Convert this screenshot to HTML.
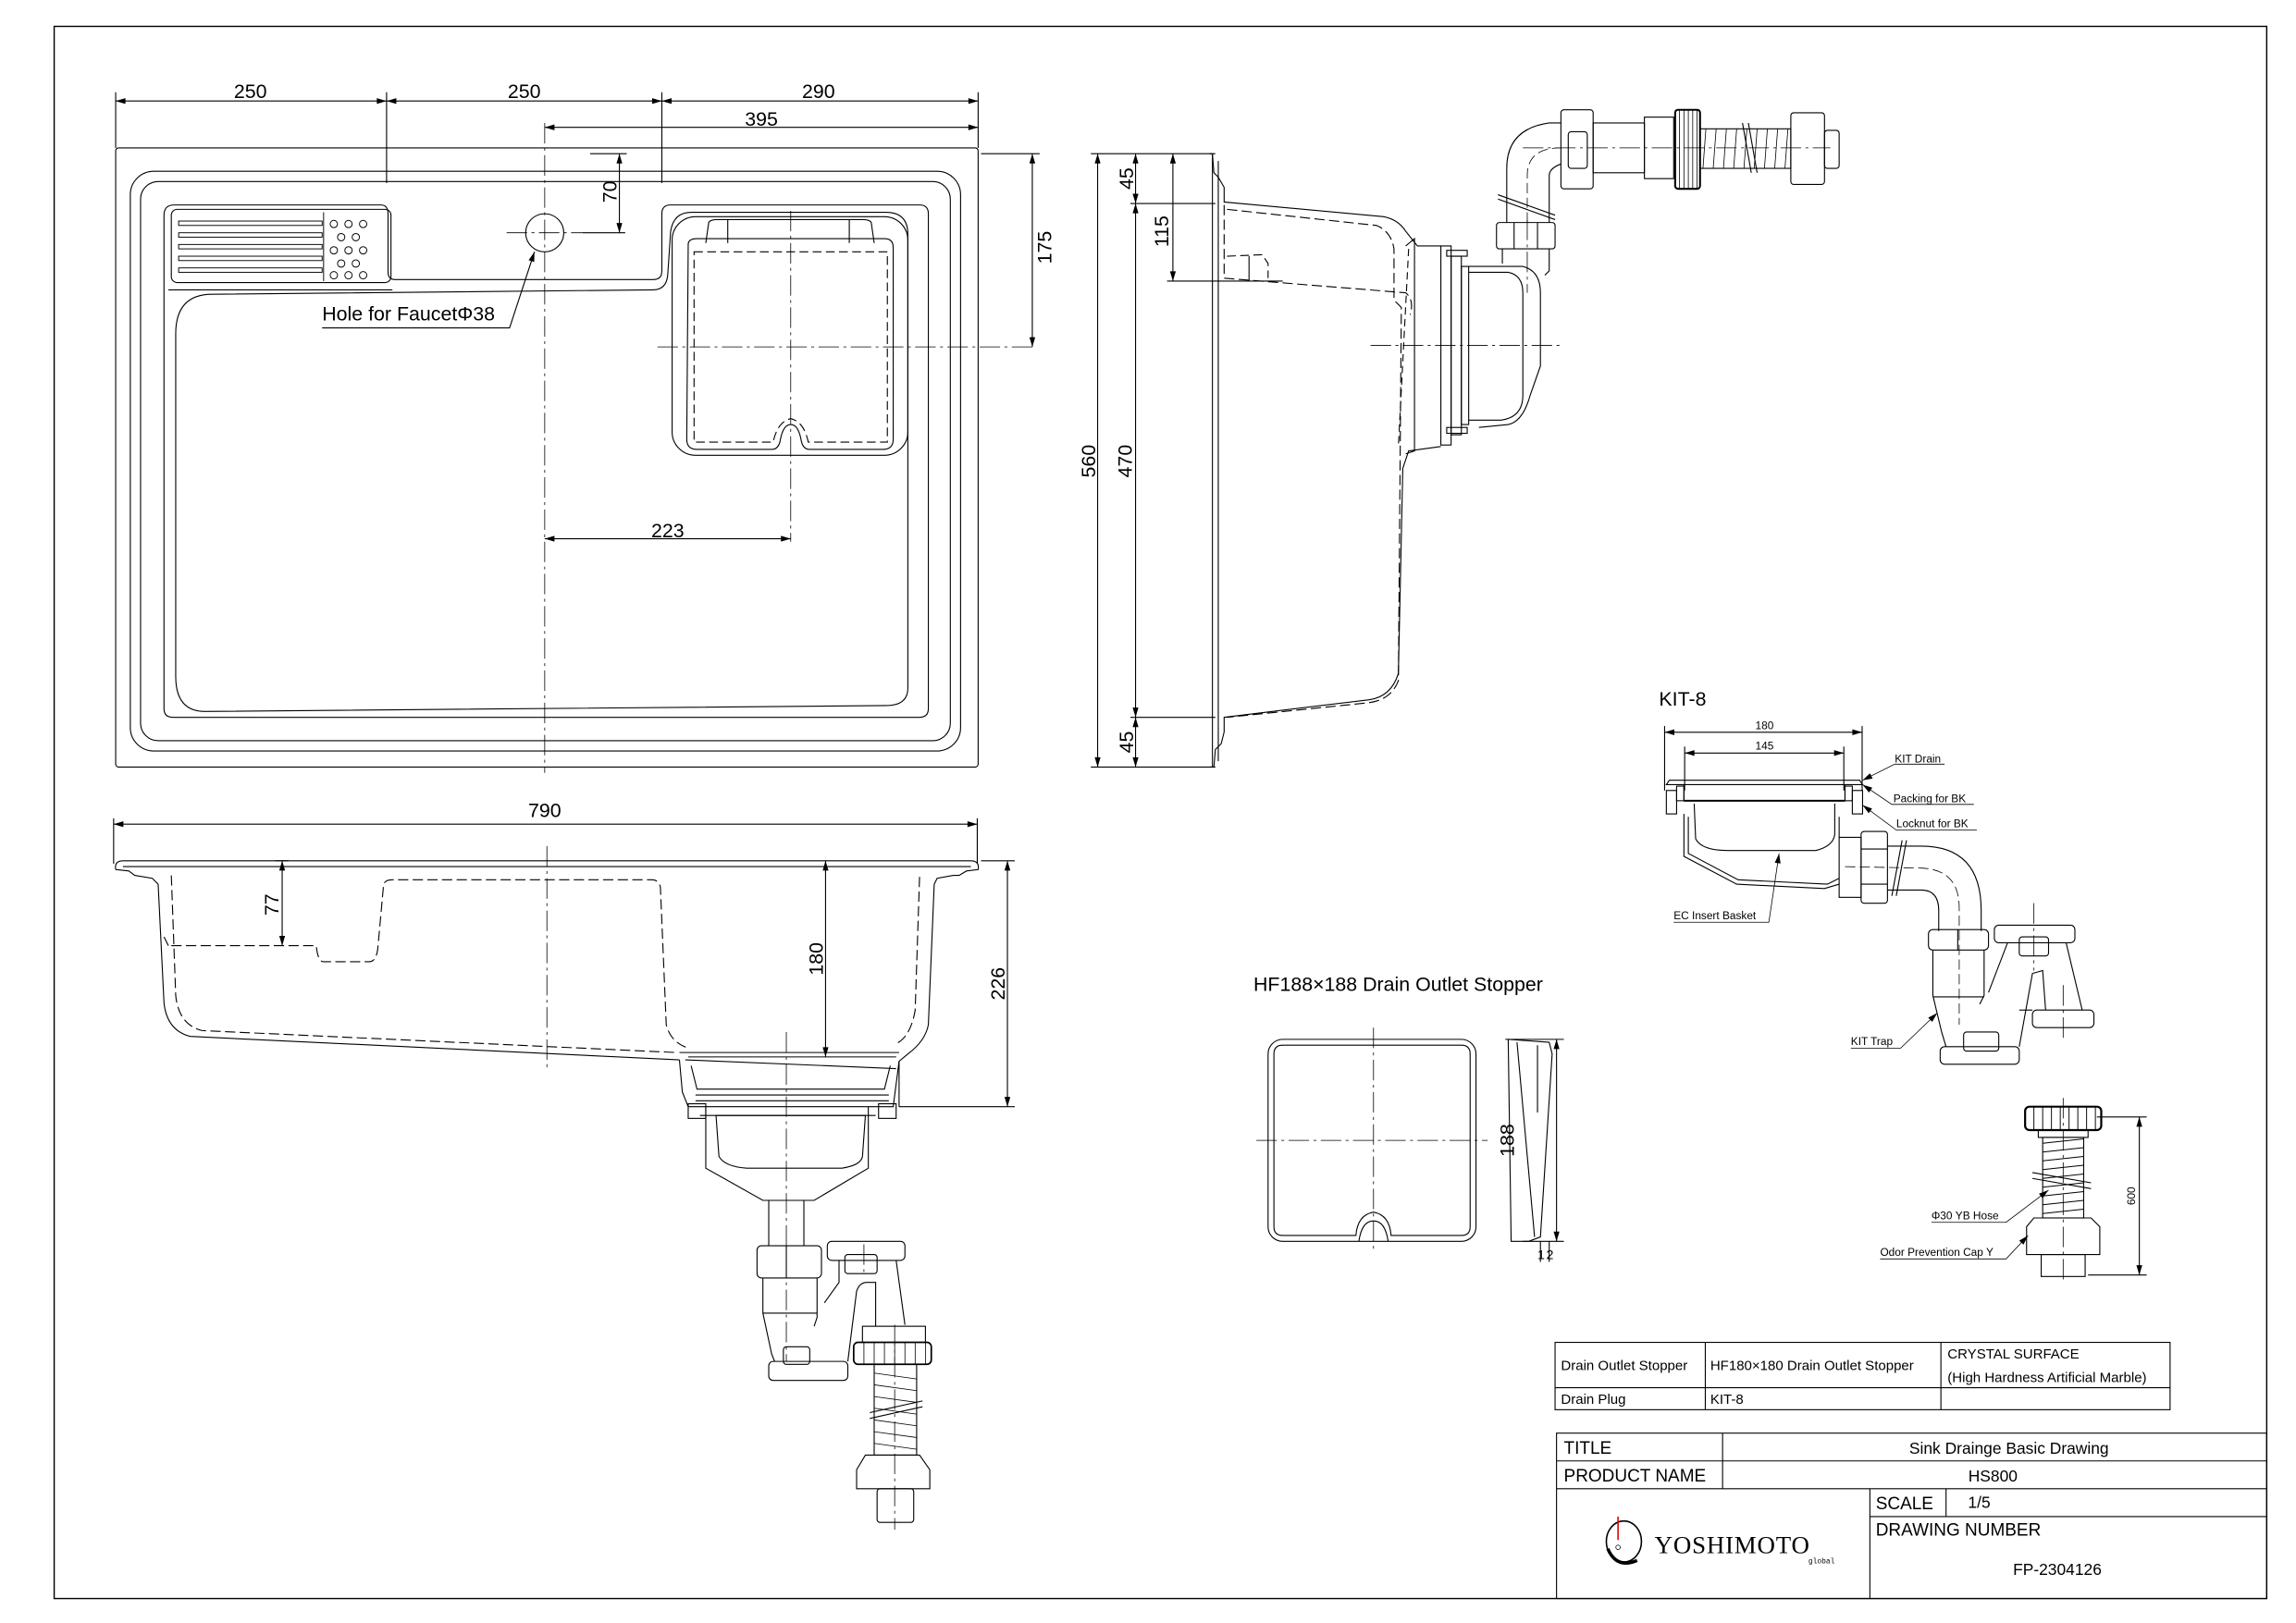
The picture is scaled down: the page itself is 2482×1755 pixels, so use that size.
<!DOCTYPE html>
<html><head><meta charset="utf-8"><style>
html,body{margin:0;padding:0;background:#fff;}
svg{display:block;}
text{font-family:"Liberation Sans",sans-serif;fill:#000;}
</style></head><body>
<svg width="2482" height="1755" viewBox="0 0 1568 1108.7" xmlns="http://www.w3.org/2000/svg">
<defs>
<marker id="a" viewBox="0 0 10 6" refX="10" refY="3" markerWidth="7" markerHeight="4" orient="auto-start-reverse" markerUnits="userSpaceOnUse"><path d="M0,0 L10,3 L0,6 z" fill="#000"/></marker>
</defs>
<g fill="none" stroke="#000" stroke-width="0.7">
<!-- frame -->
<rect x="37" y="18" width="1511" height="1074" stroke-width="0.9"/>

<!-- ===== TOP VIEW ===== -->
<rect x="79" y="101" width="589" height="423" rx="2"/>
<rect x="89" y="117" width="567" height="396" rx="16"/>
<rect x="96" y="124" width="553" height="382" rx="12"/>
<path d="M119,140 L260,140 Q265,140 265,146 L265,186 Q265,191 270,191 L446,191 Q452,191 452,185 L452,146 Q452,140 458,140 L628,140 Q634,140 634,146 L634,484 Q634,490 628,490 L118,490 Q112,490 112,484 L112,147 Q112,140 119,140 Z"/>
<path d="M115,198 L268,198"/>
<path d="M145,201 L446,198 Q455,198 456,188 L458,158 Q460,145 472,145 L605,145 Q620,145 620,160 L620,470 Q620,482 605,482 L140,486 Q120,486 120,462 L120,228 Q120,201 145,201 Z"/>
<!-- drainboard -->
<rect x="117" y="143" width="150" height="50" rx="4"/>
<g stroke-width="0.6">
<rect x="122" y="151" width="98" height="3"/><rect x="122" y="159" width="98" height="3"/><rect x="122" y="167" width="98" height="3"/><rect x="122" y="175" width="98" height="3"/><rect x="122" y="183" width="98" height="3"/>
<line x1="221" y1="145" x2="221" y2="192"/>
<circle cx="228" cy="153" r="2.5"/><circle cx="238" cy="153" r="2.5"/><circle cx="248" cy="153" r="2.5"/>
<circle cx="233" cy="162" r="2.5"/><circle cx="243" cy="162" r="2.5"/>
<circle cx="228" cy="171" r="2.5"/><circle cx="238" cy="171" r="2.5"/><circle cx="248" cy="171" r="2.5"/>
<circle cx="233" cy="180" r="2.5"/><circle cx="243" cy="180" r="2.5"/>
<circle cx="228" cy="188" r="2.5"/><circle cx="238" cy="188" r="2.5"/><circle cx="248" cy="188" r="2.5"/>
</g>
<!-- faucet hole -->
<ellipse cx="372" cy="159" rx="13" ry="13"/>
<!-- drain recess -->
<rect x="459" y="148" width="161" height="163" rx="16"/>
<path d="M470,167 Q470,163 476,163 L604,163 Q610,163 610,169 L610,300 Q610,307 603,307 L553,307 Q548,307 547,300 Q545,290 540,290 Q535,290 533,300 Q532,307 527,307 L476,307 Q469,307 469,300 Z"/>
<path d="M474,172 L606,172 L606,302 L552,302 Q549,288 540,286 Q531,288 528,302 L474,302 Z" stroke-dasharray="6 3"/>
<path d="M482,166 L484,152 Q485,150 490,150 L589,150 Q594,150 595,152 L597,166"/>
<line x1="497" y1="150" x2="497" y2="166"/><line x1="580" y1="150" x2="580" y2="166"/>
<!-- center lines -->
<g stroke-width="0.5" stroke-dasharray="14 3 2 3">
<line x1="372" y1="84" x2="372" y2="528"/>
<line x1="346" y1="159" x2="398" y2="159"/>
<line x1="449" y1="237" x2="705" y2="237"/>
<line x1="540" y1="144" x2="540" y2="370"/>
</g>
<!-- dims top -->
<line x1="79" y1="101" x2="79" y2="63"/><line x1="264" y1="125" x2="264" y2="63"/><line x1="452" y1="125" x2="452" y2="63"/><line x1="668" y1="101" x2="668" y2="63"/>
<line x1="79" y1="69" x2="264" y2="69" marker-start="url(#a)" marker-end="url(#a)"/>
<line x1="264" y1="69" x2="452" y2="69" marker-start="url(#a)" marker-end="url(#a)"/>
<line x1="452" y1="69" x2="668" y2="69" marker-start="url(#a)" marker-end="url(#a)"/>
<line x1="372" y1="87" x2="668" y2="87" marker-start="url(#a)" marker-end="url(#a)"/>
<line x1="403" y1="105" x2="428" y2="105"/>
<line x1="398" y1="159" x2="427" y2="159"/>
<line x1="423" y1="105" x2="423" y2="159" marker-start="url(#a)" marker-end="url(#a)"/>
<line x1="670" y1="105" x2="710" y2="105"/>
<line x1="705" y1="105" x2="705" y2="237" marker-start="url(#a)" marker-end="url(#a)"/>
<line x1="372" y1="368" x2="540" y2="368" marker-start="url(#a)" marker-end="url(#a)"/>
<path d="M220,224 L348,224 L365,172" marker-end="url(#a)"/>

<!-- ===== SIDE VIEW ===== -->
<line x1="749.6" y1="105" x2="749.6" y2="524" marker-start="url(#a)" marker-end="url(#a)"/>
<line x1="775.5" y1="105" x2="775.5" y2="139" marker-start="url(#a)" marker-end="url(#a)"/>
<line x1="775.5" y1="139" x2="775.5" y2="490" marker-start="url(#a)" marker-end="url(#a)"/>
<line x1="775.5" y1="490" x2="775.5" y2="524" marker-start="url(#a)" marker-end="url(#a)"/>
<line x1="801" y1="105" x2="801" y2="192" marker-start="url(#a)" marker-end="url(#a)"/>
<line x1="745" y1="105" x2="830" y2="105"/><line x1="745" y1="524" x2="830" y2="524"/>
<line x1="772" y1="139" x2="830" y2="139"/><line x1="772" y1="490" x2="830" y2="490"/>
<line x1="797" y1="192" x2="876" y2="192"/>
<path d="M826,105 L828,105 L829,118 L832,121 L836,128 L836,138 L945,148 Q955,150 960,158 L968,168 L984,168"/>
<path d="M828,105 L828,524 M832,110 L832,520"/>
<path d="M826,524 L829,524 L830,512 L834,508 L836,500 L836,490 L935,478 Q950,476 955,460 L958,320 L962,308 L984,305"/>
<path d="M836,140 L836,190 L960,200 Q966,205 963,215" stroke-dasharray="7 3"/>
<path d="M838,143 L940,154 Q950,158 952,170 L952,205 L957,210 L955,465 Q950,478 935,480 L838,490" stroke-dasharray="7 3"/>
<path d="M838,175 L862,174 L866,180 L866,190" stroke-dasharray="6 3"/>
<line x1="853" y1="175" x2="853" y2="192"/>
<path d="M960,168 L966,163 L966,308 L960,310"/>
<line x1="962" y1="170" x2="955" y2="305" stroke-dasharray="5 3"/>
<rect x="984" y="168" width="7" height="136"/>
<rect x="991" y="175" width="7" height="122"/>
<rect x="998" y="182" width="5" height="108"/>
<path d="M1003,186 L1030,186 Q1040,188 1040,200 L1040,270 Q1040,285 1025,287 L1003,287"/>
<path d="M1003,182 L1040,182 Q1052,185 1052,200 L1052,250 L1045,270 Q1040,288 1030,290 L1010,292"/>
<rect x="988" y="171" width="14" height="4"/><rect x="988" y="292" width="14" height="4"/>
<rect x="1022" y="152" width="40" height="18" rx="2"/>
<line x1="1034" y1="152" x2="1034" y2="170"/><line x1="1050" y1="152" x2="1050" y2="170"/>
<path d="M1026,170 L1026,180 M1058,170 L1058,185 L1055,188"/>
<path d="M1029,152 L1029,115 Q1029,88 1058,84 L1066,84"/>
<path d="M1058,152 L1058,120 Q1058,115 1066,112"/>
<path d="M1043,152 L1043,120 Q1043,101 1066,101" stroke-dasharray="7 3" stroke-width="0.5"/>
<path d="M1023,133 L1062,147 M1023,136 L1062,150"/>
<rect x="1066" y="75" width="22" height="54" rx="2"/>
<rect x="1071" y="90" width="13" height="25" rx="2"/>
<rect x="1088" y="84" width="35" height="34"/>
<rect x="1123" y="80" width="20" height="42"/>
<rect x="1144" y="75" width="17" height="54" rx="2" stroke-width="1.3"/>
<g stroke-width="0.5"><line x1="1147" y1="75" x2="1147" y2="129"/><line x1="1150" y1="75" x2="1150" y2="129"/><line x1="1153" y1="75" x2="1153" y2="129"/><line x1="1156" y1="75" x2="1156" y2="129"/><line x1="1159" y1="75" x2="1159" y2="129"/></g>
<rect x="1161" y="88" width="62" height="27"/>
<path d="M1165,88 L1163,115 M1172,88 L1170,115 M1179,88 L1177,115 M1186,88 L1184,115 M1193,88 L1191,115 M1200,88 L1198,115 M1207,88 L1205,115 M1214,88 L1212,115 M1221,88 L1219,115" stroke-width="0.5"/>
<path d="M1190,84 L1196,118 M1194,84 L1200,118"/>
<rect x="1223" y="77" width="23" height="49" rx="2"/>
<rect x="1246" y="89" width="10" height="26" rx="2"/>
<g stroke-width="0.5" stroke-dasharray="14 3 2 3">
<line x1="1040" y1="101" x2="1250" y2="101"/>
<line x1="936" y1="236" x2="1066" y2="236"/>
<line x1="1043" y1="150" x2="1043" y2="200"/>
</g>

<!-- ===== FRONT VIEW ===== -->
<line x1="77.6" y1="590" x2="77.6" y2="559"/><line x1="667.4" y1="590" x2="667.4" y2="559"/>
<line x1="77.6" y1="563" x2="667.4" y2="563" marker-start="url(#a)" marker-end="url(#a)"/>
<path d="M79,594 Q78,588 84,588 L663,588 Q669,588 668,594 L660,595 L655,598 L651,598 L640,600 L638,604 L634,700 Q632,711 620,720 L614,725 L614,756"/>
<path d="M79,594 L88,595 L92,598 L104,600 L108,604 L112,685 Q114,704 130,708 L464,724"/>
<path d="M84,592 L663,592"/>
<path d="M117,598 L120,680 Q122,700 138,704 L462,719" stroke-dasharray="7 3"/>
<path d="M628,599 L625,690 Q622,708 612,713" stroke-dasharray="7 3"/>
<path d="M117,646 L216,646 Q217,657 221,657 L252,657 Q257,657 258,648 L262,604 Q263,601 268,601 L445,601 Q450,601 451,606 L455,700 Q458,712 470,716" stroke-dasharray="7 3"/>
<path d="M112,640 L115,646"/>
<path d="M464,719 L614,719 M470,722 L612,722"/>
<line x1="468" y1="724" x2="612" y2="730"/>
<path d="M464,724 L466,746 L470,756 L610,756 L614,725"/>
<path d="M472,728 L476,744 L604,744 L608,728"/>
<path d="M475,748 L607,748 M475,752 L607,752"/>
<rect x="470" y="754" width="12" height="10"/><rect x="600" y="754" width="12" height="10"/>
<path d="M482,756 L482,798 L521,820 L556,820 L593,798 L593,756"/>
<path d="M489,762 L491,790 Q495,797 510,798 L575,798 Q588,796 589,790 L591,762 Z"/>
<line x1="478" y1="762" x2="598" y2="762"/>
<line x1="525" y1="820" x2="525" y2="851"/><line x1="549" y1="820" x2="549" y2="851"/>
<line x1="188" y1="588" x2="197" y2="588"/>
<line x1="192.7" y1="588" x2="192.7" y2="646" marker-start="url(#a)" marker-end="url(#a)"/>
<line x1="563.8" y1="588" x2="563.8" y2="722" marker-start="url(#a)" marker-end="url(#a)"/>
<line x1="670" y1="588" x2="693" y2="588"/><line x1="614" y1="756" x2="693" y2="756"/>
<line x1="688" y1="588" x2="688" y2="756" marker-start="url(#a)" marker-end="url(#a)"/>
<g stroke-width="0.5" stroke-dasharray="14 3 2 3">
<line x1="373.5" y1="578" x2="373.5" y2="729"/>
<line x1="537" y1="705" x2="537" y2="930"/>
<line x1="590" y1="850" x2="590" y2="870"/>
<line x1="611" y1="905" x2="611" y2="1045"/>
</g>
<!-- trap (front) -->
<rect x="517" y="851" width="44" height="22" rx="3"/>
<line x1="537" y1="851" x2="537" y2="873"/>
<path d="M521,873 L521,897 L527,925 L529,930 M558,873 L558,900 L556,906"/>
<path d="M521,897 L558,897"/>
<rect x="525" y="930" width="54" height="13" rx="3"/>
<rect x="535" y="920" width="18" height="12" rx="2"/>
<rect x="565" y="848" width="53" height="13" rx="3"/>
<rect x="577" y="857" width="22" height="13" rx="2"/>
<path d="M573,861 L573,876 L563,890 M612,861 L618,905"/>
<path d="M579,930 L585,882 Q587,876 592,876 L598,876 L598,906"/>
<rect x="589" y="906" width="43" height="11"/>
<rect x="583" y="917" width="53" height="15" rx="3" stroke-width="1.1"/>
<g stroke-width="0.5"><line x1="590" y1="917" x2="590" y2="932"/><line x1="597" y1="917" x2="597" y2="932"/><line x1="604" y1="917" x2="604" y2="932"/><line x1="611" y1="917" x2="611" y2="932"/><line x1="618" y1="917" x2="618" y2="932"/><line x1="625" y1="917" x2="625" y2="932"/><line x1="632" y1="917" x2="632" y2="932"/></g>
<rect x="597" y="932" width="29" height="62"/>
<path d="M597,938 L626,942 M597,946 L626,950 M597,954 L626,958 M597,962 L626,966 M597,970 L626,974 M597,978 L626,982 M597,986 L626,990" stroke-width="0.5"/>
<path d="M594,965 L630,957 M594,969 L630,961"/>
<path d="M591,994 L628,994 L635,1004 L635,1017 L585,1017 L585,1004 Z"/>
<rect x="599" y="1017" width="25" height="23" rx="2"/>

<!-- ===== HF188 stopper ===== -->
<rect x="866" y="710" width="142" height="138" rx="10"/>
<path d="M876,714 L998,714 Q1004,714 1004,720 L1004,838 Q1004,844 998,844 L950,844 Q949,830 938,828 Q927,830 926,844 L876,844 Q870,844 870,838 L870,720 Q870,714 876,714 Z"/>
<path d="M928,848 Q930,834 938,834 Q946,834 948,848"/>
<g stroke-width="0.5" stroke-dasharray="14 3 2 3">
<line x1="858" y1="779" x2="1016" y2="779"/>
<line x1="938" y1="702" x2="938" y2="856"/>
</g>
<path d="M1030,710 L1058,712 L1060,720 L1052,845 L1044,848 L1032,848 Z"/>
<path d="M1036,712 L1048,845 M1050,714 L1050,760"/>
<line x1="1028" y1="710" x2="1068" y2="710"/><line x1="1040" y1="848" x2="1068" y2="848"/>
<line x1="1063" y1="710" x2="1063" y2="848" marker-start="url(#a)" marker-end="url(#a)"/>
<line x1="1052" y1="848" x2="1052" y2="862"/><line x1="1058" y1="848" x2="1058" y2="862"/>

<!-- ===== KIT-8 ===== -->
<line x1="1136.8" y1="496" x2="1136.8" y2="540"/><line x1="1271.7" y1="496" x2="1271.7" y2="540"/>
<line x1="1150.5" y1="510" x2="1150.5" y2="540"/><line x1="1259.2" y1="510" x2="1259.2" y2="540"/>
<line x1="1136.8" y1="500.2" x2="1271.7" y2="500.2" marker-start="url(#a)" marker-end="url(#a)"/>
<line x1="1150.5" y1="514.4" x2="1259.2" y2="514.4" marker-start="url(#a)" marker-end="url(#a)"/>
<path d="M1138,536 L1140,533 L1270,533 L1272,536 Z"/>
<line x1="1150" y1="536" x2="1150" y2="547"/><line x1="1260" y1="536" x2="1260" y2="547"/>
<line x1="1150" y1="547" x2="1260" y2="547" stroke-width="1.2"/>
<rect x="1138" y="540" width="7" height="16"/><rect x="1265" y="540" width="7" height="16"/>
<rect x="1145" y="537" width="5" height="10"/><rect x="1260" y="537" width="5" height="10"/>
<path d="M1157,549 L1158,573 Q1162,581 1180,581 L1240,581 Q1252,578 1253,570 L1253,549"/>
<path d="M1153,558 L1153,583 L1187,601 L1248,604 L1256,600 M1150,556 L1150,585 L1186,604 L1246,607 L1256,604"/>
<path d="M1256,558 L1256,572"/>
<rect x="1256" y="572" width="15" height="41"/>
<rect x="1271" y="568" width="18" height="49" rx="2"/>
<line x1="1271" y1="580" x2="1289" y2="580"/><line x1="1271" y1="604" x2="1289" y2="604"/>
<path d="M1289,578 L1312,578 Q1353,578 1353,622 L1353,636"/>
<path d="M1289,608 L1312,608 Q1324,608 1324,622 L1324,636"/>
<path d="M1299,574 L1292,612 M1302,574 L1295,612"/>
<path d="M1260,592 L1312,593 Q1338,594 1338,620 L1338,700" stroke-dasharray="7 3" stroke-width="0.5"/>
<rect x="1317" y="635" width="41" height="14" rx="3"/>
<line x1="1337" y1="635" x2="1337" y2="649"/>
<path d="M1320,649 L1320,680 L1326,705 L1329,715 M1355,649 L1355,680 L1352,686"/>
<line x1="1320" y1="681" x2="1355" y2="681"/>
<rect x="1325" y="715" width="54" height="12" rx="3"/>
<rect x="1341" y="705" width="24" height="13" rx="2"/>
<rect x="1362" y="632" width="55" height="12" rx="3"/>
<rect x="1379" y="640" width="20" height="13" rx="2"/>
<path d="M1371,644 L1358,678 M1411,644 L1422,690"/>
<path d="M1379,715 L1388,665 L1395,663 L1397,690"/>
<path d="M1379,690 L1388,690"/>
<rect x="1388" y="690" width="42" height="12" rx="3"/>
<g stroke-width="0.5" stroke-dasharray="14 3 2 3">
<line x1="1389" y1="617" x2="1389" y2="663"/>
<line x1="1409" y1="673" x2="1409" y2="712"/>
<line x1="1409" y1="750" x2="1409" y2="875"/>
</g>
<!-- hose part -->
<rect x="1383" y="756" width="52" height="16" rx="3" stroke-width="1.4"/>
<g stroke-width="0.6"><line x1="1389" y1="756" x2="1389" y2="772"/><line x1="1395" y1="756" x2="1395" y2="772"/><line x1="1401" y1="756" x2="1401" y2="772"/><line x1="1407" y1="756" x2="1407" y2="772"/><line x1="1413" y1="756" x2="1413" y2="772"/><line x1="1419" y1="756" x2="1419" y2="772"/><line x1="1425" y1="756" x2="1425" y2="772"/><line x1="1431" y1="756" x2="1431" y2="772"/></g>
<rect x="1392" y="772" width="34" height="5"/>
<rect x="1395" y="777" width="28" height="55"/>
<path d="M1395,781 L1423,778 M1395,787 L1423,784 M1395,793 L1423,790 M1395,799 L1423,796 M1395,805 L1423,802 M1395,811 L1423,808 M1395,817 L1423,814 M1395,823 L1423,820 M1395,829 L1423,826" stroke-width="0.6"/>
<path d="M1388,801 L1428,808 M1388,805 L1428,812"/>
<path d="M1389,832 L1428,832 L1434,838 L1434,857 L1384,857 L1384,838 Z"/>
<rect x="1394" y="857" width="30" height="15"/>
<line x1="1432" y1="763" x2="1466" y2="763"/><line x1="1426" y1="871" x2="1466" y2="871"/>
<line x1="1461" y1="763" x2="1461" y2="871" marker-start="url(#a)" marker-end="url(#a)"/>
<!-- KIT leaders -->
<g stroke-width="0.5">
<path d="M1328,522 L1294,522 L1272,533" marker-end="url(#a)"/>
<path d="M1348,549.5 L1292,549.5 L1272,536" marker-end="url(#a)"/>
<path d="M1350,567 L1295,567 L1272,550" marker-end="url(#a)"/>
<path d="M1143,630 L1208,630 L1215,583" marker-end="url(#a)"/>
<path d="M1264,716 L1298,716 L1323,692" marker-end="url(#a)"/>
<path d="M1319,835 L1370,835 L1399,813" marker-end="url(#a)"/>
<path d="M1284,860 L1370,860 L1385,844" marker-end="url(#a)"/>
</g>

<!-- ===== TABLES ===== -->
<rect x="1062" y="917" width="420" height="46"/>
<line x1="1062" y1="948" x2="1482" y2="948"/>
<line x1="1164.6" y1="917" x2="1164.6" y2="963"/><line x1="1325.5" y1="917" x2="1325.5" y2="963"/>
<rect x="1063" y="979" width="485" height="113"/>
<line x1="1063" y1="998" x2="1548" y2="998"/><line x1="1063" y1="1017" x2="1548" y2="1017"/>
<line x1="1277" y1="1036" x2="1548" y2="1036"/>
<line x1="1176.4" y1="979" x2="1176.4" y2="1017"/>
<line x1="1277" y1="1017" x2="1277" y2="1092"/>
<line x1="1329" y1="1017" x2="1329" y2="1036"/>
<!-- logo -->
<path d="M1097,1053 A12,14 0 1 1 1121,1053 A12,14 0 1 1 1097,1053 Z" stroke-width="1"/>
<path d="M1098,1058 Q1104,1072 1118,1066" stroke-width="2.2"/>
<circle cx="1105" cy="1057" r="1.5" stroke-width="0.5"/>
<line x1="1105" y1="1036" x2="1105" y2="1052" stroke="#d00" stroke-width="1"/>
</g>

<!-- ===== TEXT ===== -->
<g font-size="13.5" text-anchor="middle">
<text x="171" y="67">250</text><text x="358" y="67">250</text><text x="559" y="67">290</text>
<text x="520" y="86">395</text>
<text x="456" y="367">223</text>
<text transform="translate(421,131) rotate(-90)">70</text>
<text transform="translate(718,169) rotate(-90)">175</text>
<text transform="translate(774,122) rotate(-90)">45</text>
<text transform="translate(798,158) rotate(-90)">115</text>
<text transform="translate(773,315) rotate(-90)">470</text>
<text transform="translate(748,315) rotate(-90)">560</text>
<text transform="translate(774,507) rotate(-90)">45</text>
<text x="372" y="558">790</text>
<text transform="translate(190,618) rotate(-90)">77</text>
<text transform="translate(562,655) rotate(-90)">180</text>
<text transform="translate(686,672) rotate(-90)">226</text>
<text transform="translate(1034,779) rotate(-90)">188</text>
</g>
<text x="220" y="219" font-size="13.5">Hole for FaucetΦ38</text>
<text x="856" y="677" font-size="13.5">HF188×188 Drain Outlet Stopper</text>
<text x="1133" y="482" font-size="13.5">KIT-8</text>
<text x="1050" y="860" font-size="9">1</text><text x="1056" y="860" font-size="9">2</text>
<g font-size="7.5">
<text x="1205" y="498" text-anchor="middle">180</text>
<text x="1205" y="512" text-anchor="middle">145</text>
<text x="1294" y="521">KIT Drain</text>
<text x="1293" y="548">Packing for BK</text>
<text x="1295" y="565">Locknut for BK</text>
<text x="1143" y="628">EC Insert Basket</text>
<text x="1264" y="714">KIT Trap</text>
<text x="1319" y="833">Φ30 YB Hose</text>
<text x="1284" y="858">Odor Prevention Cap Y</text>
<text transform="translate(1458,817) rotate(-90)" text-anchor="middle">600</text>
</g>
<g font-size="9.5">
<text x="1066" y="936">Drain Outlet Stopper</text>
<text x="1168" y="936">HF180×180 Drain Outlet Stopper</text>
<text x="1330" y="928">CRYSTAL SURFACE</text>
<text x="1330" y="944">(High Hardness Artificial Marble)</text>
<text x="1066" y="959">Drain Plug</text>
<text x="1168" y="959">KIT-8</text>
</g>
<g font-size="12">
<text x="1068" y="993">TITLE</text>
<text x="1372" y="993" text-anchor="middle" font-size="11">Sink Drainge Basic Drawing</text>
<text x="1068" y="1012">PRODUCT NAME</text>
<text x="1361" y="1012" text-anchor="middle" font-size="11">HS800</text>
<text x="1281" y="1031">SCALE</text>
<text x="1344" y="1030" font-size="11">1/5</text>
<text x="1281" y="1049">DRAWING NUMBER</text>
<text x="1405" y="1076" text-anchor="middle" font-size="11">FP-2304126</text>
</g>
<text x="1130" y="1061" font-size="17" font-family="Liberation Serif, serif" style="font-family:'Liberation Serif',serif;letter-spacing:0.5px">YOSHIMOTO</text>
<text x="1235" y="1068" font-size="5" style="font-family:'Liberation Mono',monospace">global</text>
</svg>
</body></html>
